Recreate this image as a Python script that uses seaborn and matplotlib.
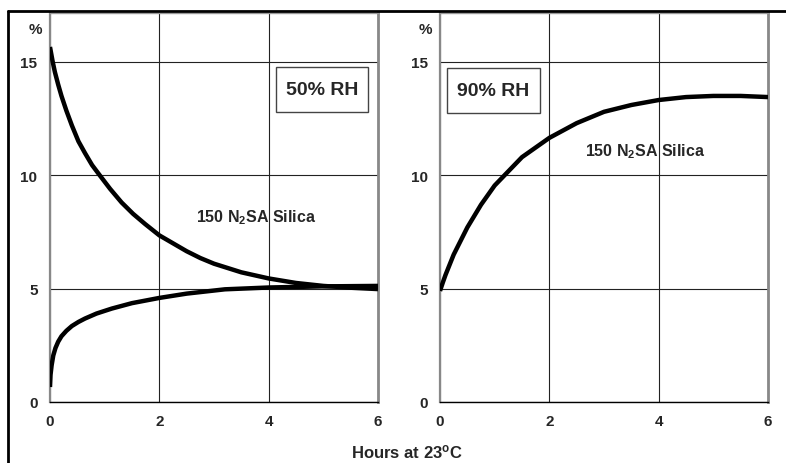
import pandas as pd
import seaborn as sns
from matplotlib import pyplot as plt
from matplotlib.lines import Line2D
from matplotlib.patches import Rectangle

# values (hours, moisture %)
hours_50_dry = [0, 0.05, 0.09, 0.15, 0.21, 0.3, 0.4, 0.52, 0.64, 0.77, 0.91, 1.1, 1.31, 1.52,
                1.74, 2, 2.25, 2.5, 2.75, 3, 3.5, 4, 4.5, 5, 5.5, 6]
pct_50_dry = [15.66, 15.0, 14.55, 14.0, 13.5, 12.85, 12.2, 11.5, 10.98, 10.45, 10.0, 9.4, 8.8, 8.3,
              7.85, 7.35, 7.0, 6.65, 6.35, 6.1, 5.72, 5.45, 5.25, 5.12, 5.04, 4.98]

hours_50_wet = [0, 0.01, 0.03, 0.06, 0.1, 0.15, 0.21, 0.3, 0.4, 0.52, 0.64, 0.85, 1.13, 1.5,
                2, 2.5, 3.2, 4, 5, 6]
pct_50_wet = [0.66, 1.2, 1.62, 2.05, 2.38, 2.66, 2.9, 3.14, 3.35, 3.53, 3.68, 3.9, 4.12, 4.36,
              4.59, 4.78, 4.97, 5.05, 5.1, 5.12]

hours_90 = [0, 0.05, 0.1, 0.25, 0.5, 0.75, 1, 1.5, 2, 2.5, 3, 3.5, 4, 4.5, 5, 5.5, 6]
pct_90 = [4.9, 5.26, 5.6, 6.5, 7.7, 8.7, 9.55, 10.8, 11.65, 12.3, 12.8, 13.1, 13.32, 13.45, 13.5, 13.5, 13.45]

x_ticks = [0, 2, 4, 6]
y_ticks = [0, 5, 10, 15]
panel_labels = ['50% RH', '90% RH']
curve_label = '150 N$_2$SA Silica'

sns.set_style('white')
plt.rcParams['font.family'] = ['Liberation Sans', 'DejaVu Sans']
plt.rcParams['font.weight'] = 'bold'
plt.rcParams['mathtext.fontset'] = 'custom'
plt.rcParams['mathtext.rm'] = 'Liberation Sans:bold'
plt.rcParams['mathtext.it'] = 'Liberation Sans:bold'
plt.rcParams['mathtext.bf'] = 'Liberation Sans:bold'

fig = plt.figure(figsize=(7.86, 4.64), dpi=100)
ax1 = fig.add_axes([0.0636, 0.1315, 0.4173, 0.8384])
ax2 = fig.add_axes([0.5598, 0.1315, 0.4173, 0.8384])

df_dry = pd.DataFrame({'hours': hours_50_dry, 'pct': pct_50_dry})
df_wet = pd.DataFrame({'hours': hours_50_wet, 'pct': pct_50_wet})
df_90 = pd.DataFrame({'hours': hours_90, 'pct': pct_90})

line_kw = dict(color='black', lw=3.2, zorder=5, solid_joinstyle='round', solid_capstyle='butt')
sns.lineplot(data=df_dry, x='hours', y='pct', ax=ax1, **line_kw)
sns.lineplot(data=df_wet, x='hours', y='pct', ax=ax1, **line_kw)
sns.lineplot(data=df_90, x='hours', y='pct', ax=ax2, **line_kw)


def style_axes(ax):
    ax.set_xlim(0, 6)
    ax.set_ylim(0, 17.16)
    ax.set_xticks(x_ticks)
    ax.set_yticks(y_ticks)
    ax.set_xlabel('')
    ax.set_ylabel('')
    ax.grid(True, color='#222222', lw=0.8)
    ax.set_axisbelow(True)
    ax.tick_params(axis='x', length=5, width=1, pad=4, labelsize=11, color='#555555')
    ax.tick_params(axis='y', length=6, width=1, pad=3, labelsize=11, color='black')
    ax.spines['left'].set_color('#888888')
    ax.spines['left'].set_linewidth(1.6)
    ax.spines['right'].set_color('#888888')
    ax.spines['right'].set_linewidth(2)
    ax.spines['top'].set_color('#999999')
    ax.spines['top'].set_linewidth(1)
    ax.spines['bottom'].set_color('black')
    ax.spines['bottom'].set_linewidth(1)
    for lbl in ax.get_xticklabels() + ax.get_yticklabels():
        lbl.set_fontweight('bold')
    ax.text(-0.046, 0.959, '%', transform=ax.transAxes, ha='center', va='center',
            fontsize=11, fontweight='bold')


style_axes(ax1)
style_axes(ax2)

# boxed humidity labels
for ax, label, (x0, x1, y0, y1) in [
    (ax1, panel_labels[0], (0.689, 0.970, 0.7455, 0.861)),
    (ax2, panel_labels[1], (0.021, 0.305, 0.743, 0.859)),
]:
    ax.add_patch(Rectangle((x0, y0), x1 - x0, y1 - y0, transform=ax.transAxes,
                           fc='white', ec='#444444', lw=1, zorder=6))
    ax.text((x0 + x1) / 2, (y0 + y1) / 2, label, transform=ax.transAxes,
            ha='center', va='center', fontsize=14, fontweight='bold', zorder=7)

ax1.text(3.77, 8.16, curve_label, ha='center', va='center', fontsize=11.5, fontweight='bold', zorder=7)
ax2.text(3.76, 11.07, curve_label, ha='center', va='center', fontsize=11.5, fontweight='bold', zorder=7)

fig.text(0.518, 0.026, 'Hours at 23$^\\mathrm{o}$C', ha='center', va='center',
         fontsize=12, fontweight='bold')

# outer frame (left and top edges visible)
fig.add_artist(Line2D([8 / 786, 8 / 786], [0, 1 - 12 / 464], color='black', lw=2,
                      transform=fig.transFigure))
fig.add_artist(Line2D([8 / 786, 1], [1 - 12 / 464, 1 - 12 / 464], color='black', lw=2,
                      transform=fig.transFigure))

fig.savefig('out.png', dpi=100)
